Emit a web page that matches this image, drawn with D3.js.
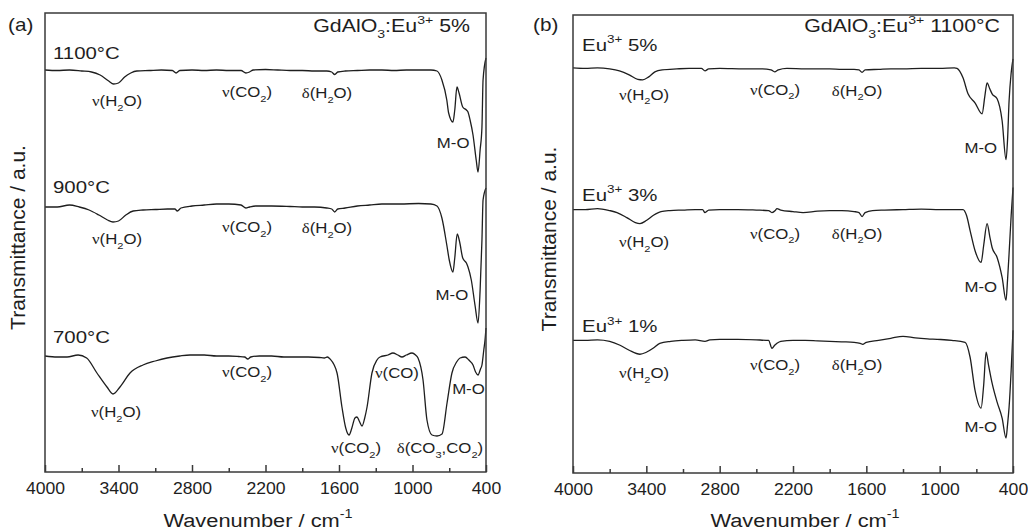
<!DOCTYPE html>
<html>
<head>
<meta charset="utf-8">
<script src="https://cdn.jsdelivr.net/npm/d3@7"></script>
<style>
body { margin: 0; background: #fff; }
svg { display: block; font-family: "Liberation Sans", Arial, Helvetica, sans-serif; }
</style>
</head>
<body>
<svg width="1028" height="530"></svg>
<script>
// spectra: [wavenumber (cm-1), transmittance (a.u., stacked)]
var t1100 = [[4000,402],[3900,401.5],[3800,402],[3700,401],[3620,400],[3550,397],[3480,391],[3440,388],[3400,389],[3350,395],[3300,399],[3250,401],[3150,401.5],[3050,402],[2960,401.5],[2930,399],[2900,401.5],[2800,402],[2700,401.5],[2600,402],[2500,401.5],[2400,401.5],[2360,399],[2330,400],[2300,402],[2200,402.5],[2100,402],[2000,401.5],[1900,401.5],[1800,401],[1700,401],[1660,400],[1635,397.5],[1610,400],[1550,401],[1450,401.5],[1350,402],[1250,402],[1150,401.5],[1050,402],[950,402],[850,402],[800,401],[760,392],[720,372],[705,359],[670,350],[655,362],[637,385],[620,379],[590,365],[560,362],[547,360],[530,352],[506,337],[480,312],[465,300],[448,322],[433,345],[424,392],[400,414]];

var t900 = [[4000,265],[3900,265],[3800,267],[3720,265],[3640,262],[3560,257],[3490,252],[3445,250],[3400,251],[3340,257],[3280,261],[3200,262],[3100,262.5],[3000,263],[2940,263],[2920,261],[2890,264],[2800,266],[2700,267],[2600,268],[2500,268],[2400,267],[2360,264],[2330,265],[2280,266],[2150,266],[2000,265.5],[1900,265],[1800,265],[1700,264],[1660,263],[1635,260],[1610,263],[1550,264],[1450,266],[1350,267],[1250,268],[1100,268],[950,268.5],[850,268],[800,266],[760,254],[720,227],[700,212],[670,200],[655,214],[635,238],[615,230],[590,214],[560,209],[547,205],[520,192],[490,167],[465,149],[448,182],[433,232],[424,272],[400,284]];

var t700 = [[4000,116],[3900,115],[3820,115],[3730,117],[3660,114],[3576,99],[3494,85],[3445,78],[3388,85],[3306,99],[3200,107],[3100,111],[3004,114],[2900,116],[2816,117],[2700,117],[2600,116],[2500,116],[2420,115.5],[2370,115],[2345,113],[2320,115],[2250,116],[2150,116],[2050,115],[1950,115],[1850,115],[1760,114.5],[1720,114],[1695,115],[1673,113],[1616,99],[1576,65],[1545,44],[1518,37],[1495,44],[1470,54],[1453,55],[1435,51],[1412,46],[1390,54],[1371,65],[1331,99],[1290,112],[1265,115],[1200,117],[1160,119],[1120,117],[1086,115],[1050,117],[1004,119],[975,117],[955,114],[914,92],[882,52],[841,37],[800,36],[759,38],[718,69],[678,99],[640,110],[612,114],[571,115],[540,112],[506,107],[485,100],[465,97],[445,103],[433,107],[418,122],[408,132],[400,144]];

var tEu5 = [[4000,406],[3900,405.5],[3800,406],[3700,405],[3620,403],[3540,399],[3470,394.5],[3430,394],[3380,397],[3330,402],[3270,404],[3150,405],[3050,405.5],[2950,405.5],[2920,403],[2890,405],[2800,405.5],[2600,405],[2450,405],[2380,404],[2350,402],[2320,404],[2250,405.5],[2100,405],[2000,405],[1900,405],[1800,404.5],[1700,404.5],[1660,404],[1635,401.5],[1610,404],[1500,404.5],[1400,405],[1300,405],[1150,405.5],[1000,405.5],[880,406],[858,405.5],[809,396],[768,380],[711,371],[653,360],[630,378],[612,391],[590,385],[571,380],[530,375],[489,353],[457,314],[445,333],[432,373],[415,401],[400,415]];

var tEu3 = [[4000,264],[3900,264],[3800,265],[3700,263],[3640,261],[3560,256],[3490,251],[3452,250],[3400,253],[3345,258],[3280,262],[3206,263],[3100,263.5],[3000,264],[2940,264],[2920,261],[2890,263.5],[2800,264],[2650,264],[2500,263.5],[2400,263],[2372,261],[2345,263],[2331,265],[2300,263.5],[2200,262],[2118,261],[2000,262.5],[1900,263],[1800,263],[1700,262],[1660,261],[1635,257],[1610,261],[1550,263],[1450,263.5],[1300,264],[1150,264.5],[1000,264],[900,264],[809,264],[780,258],[751,243],[711,223],[661,211],[640,228],[612,250],[590,237],[571,226],[530,216],[489,196],[457,173],[445,193],[432,220],[415,258],[400,286]];

var tEu1 = [[4000,133],[3900,133],[3800,133.5],[3700,132],[3615,128],[3540,123],[3452,119],[3400,121],[3345,125],[3290,130],[3200,132],[3100,133],[3000,133.5],[2920,132],[2880,133.5],[2800,134],[2650,134],[2500,133.5],[2420,133],[2400,133],[2372,125],[2350,128],[2331,130],[2300,132],[2200,133],[2100,133],[2000,132.5],[1900,132],[1800,131.5],[1700,131],[1650,130],[1630,129],[1600,131],[1500,133],[1400,135],[1300,137],[1200,135.5],[1100,134.5],[1021,134],[900,133],[792,131],[751,116],[711,83],[661,65],[640,88],[620,121],[600,108],[571,90],[530,71],[489,55],[457,35],[445,48],[432,66],[415,103],[400,143]];

var majorTicks = [4000, 3400, 2800, 2200, 1600, 1000, 400];
var minorTicks = [3700, 3100, 2500, 1900, 1300, 700];

// annotations: [wavenumber, transmittance, text, anchor]
var notesA = [
  [3935, 413, "1100°C", "start"], [3412, 366, "ν(H_{2}O)", "middle"], [2351, 375, "ν(CO_{2})", "middle"],
  [1698, 374, "δ(H_{2}O)", "middle"], [535, 324, "M-O", "end"],
  [3935, 279, "900°C", "start"], [3412, 228, "ν(H_{2}O)", "middle"], [2351, 240, "ν(CO_{2})", "middle"],
  [1698, 239, "δ(H_{2}O)", "middle"], [545, 172, "M-O", "end"],
  [3935, 129, "700°C", "start"], [3420, 55, "ν(H_{2}O)", "middle"], [2351, 95, "ν(CO_{2})", "middle"],
  [1127, 94, "ν(CO)", "middle"], [1461, 19, "ν(CO_{2})", "middle"], [776, 19, "δ(CO_{3},CO_{2})", "middle"],
  [410, 78, "M-O", "end"]
];
var notesB = [
  [3926, 423, "Eu^{3+} 5%", "start"], [3419, 374, "ν(H_{2}O)", "middle"], [2347, 379, "ν(CO_{2})", "middle"],
  [1676, 378, "δ(H_{2}O)", "middle"], [530, 321, "M-O", "end"],
  [3926, 273, "Eu^{3+} 3%", "start"], [3419, 226, "ν(H_{2}O)", "middle"], [2347, 235, "ν(CO_{2})", "middle"],
  [1676, 235, "δ(H_{2}O)", "middle"], [530, 181, "M-O", "end"],
  [3926, 141, "Eu^{3+} 1%", "start"], [3419, 95, "ν(H_{2}O)", "middle"], [2347, 103, "ν(CO_{2})", "middle"],
  [1676, 103, "δ(H_{2}O)", "middle"], [530, 41, "M-O", "end"]
];

var svg = d3.select("svg");
var ink = "#1e1e1e";

var panels = [
  {x0: 45, x1: 486, y0: 13, y1: 472, series: [t1100, t900, t700], notes: notesA,
   tag: "(a)", tagX: 8, title: "GdAlO_{3}:Eu^{3+} 5%", titleX: 470, ytX: 25, xtX: 258},
  {x0: 573, x1: 1013, y0: 15, y1: 473, series: [tEu5, tEu3, tEu1], notes: notesB,
   tag: "(b)", tagX: 533, title: "GdAlO_{3}:Eu^{3+} 1100°C", titleX: 1000, ytX: 556, xtX: 805}
];

// text with _{sub} and ^{sup} parts, stretched a little horizontally like the original
function rich(g, str, x, y, size, anchor, sx) {
  var t = g.append("text")
      .attr("transform", "translate(" + x + "," + y + ") scale(" + sx + ",1)")
      .attr("text-anchor", anchor)
      .attr("font-size", size)
      .attr("fill", ink);
  var re = /_\{([^}]*)\}|\^\{([^}]*)\}|[νδ]|[^_^νδ]+/g, m, shift = 0;
  while ((m = re.exec(str))) {
    var target = 0, fs = size, txt = m[0];
    if (m[1] != null) { target = size * 0.33; fs = size * 0.66; txt = m[1]; }
    else if (m[2] != null) { target = -size * 0.45; fs = size * 0.66; txt = m[2]; }
    var s = t.append("tspan").attr("dy", target - shift).attr("font-size", fs).text(txt);
    if (txt === "ν" || txt === "δ") s.attr("font-family", "Liberation Serif, Times New Roman, serif");
    shift = target;
  }
  return t;
}

panels.forEach(function(p) {
  var x = d3.scaleLinear().domain([4000, 400]).range([p.x0, p.x1]);
  var y = d3.scaleLinear().domain([0, 459]).range([p.y1, p.y0]);
  var g = svg.append("g");

  var line = d3.line()
      .x(function(d) { return x(d[0]); })
      .y(function(d) { return y(d[1]); })
      .curve(d3.curveMonotoneX);

  g.selectAll("path.spec")
    .data(p.series)
    .enter().append("path")
      .attr("class", "spec")
      .attr("d", line)
      .attr("fill", "none")
      .attr("stroke", ink)
      .attr("stroke-width", 1.3)
      .attr("stroke-linejoin", "round");

  // frame
  g.append("rect")
      .attr("x", p.x0).attr("y", p.y0)
      .attr("width", p.x1 - p.x0).attr("height", p.y1 - p.y0)
      .attr("fill", "none").attr("stroke", "#3a3a3a").attr("stroke-width", 1.5);

  var ax = g.append("g")
      .attr("transform", "translate(0," + p.y1 + ")")
      .call(d3.axisBottom(x).tickValues(majorTicks).tickSize(-7).tickPadding(11).tickFormat(d3.format("d")));
  ax.select(".domain").remove();
  ax.selectAll("line").attr("stroke", "#3a3a3a").attr("stroke-width", 1.5);
  ax.selectAll("text")
      .attr("font-size", 16)
      .attr("font-family", "Liberation Sans, Arial, sans-serif")
      .attr("fill", ink)
      .attr("transform", "scale(1.1,1)");

  var mn = g.append("g")
      .attr("transform", "translate(0," + p.y1 + ")")
      .call(d3.axisBottom(x).tickValues(minorTicks).tickSize(-4).tickFormat(""));
  mn.select(".domain").remove();
  mn.selectAll("line").attr("stroke", "#3a3a3a").attr("stroke-width", 1.5);

  p.notes.forEach(function(n) {
    var big = n[3] === "start";
    rich(g, n[2], x(n[0]), y(n[1]), big ? 17 : 14, n[3], 1.2);
  });

  rich(g, p.tag, p.tagX, 31, 18, "start", 1.15);
  rich(g, p.title, p.titleX, 32, 17.5, "end", 1.22);
  rich(g, "Wavenumber / cm^{-1}", p.xtX, 527, 19, "middle", 1.15);

  g.append("text")
      .attr("transform", "translate(" + p.ytX + "," + ((p.y0 + p.y1) / 2 - 5) + ") rotate(-90)")
      .attr("text-anchor", "middle")
      .attr("font-size", 21)
      .attr("fill", ink)
      .text("Transmittance / a.u.");
});
</script>
</body>
</html>
